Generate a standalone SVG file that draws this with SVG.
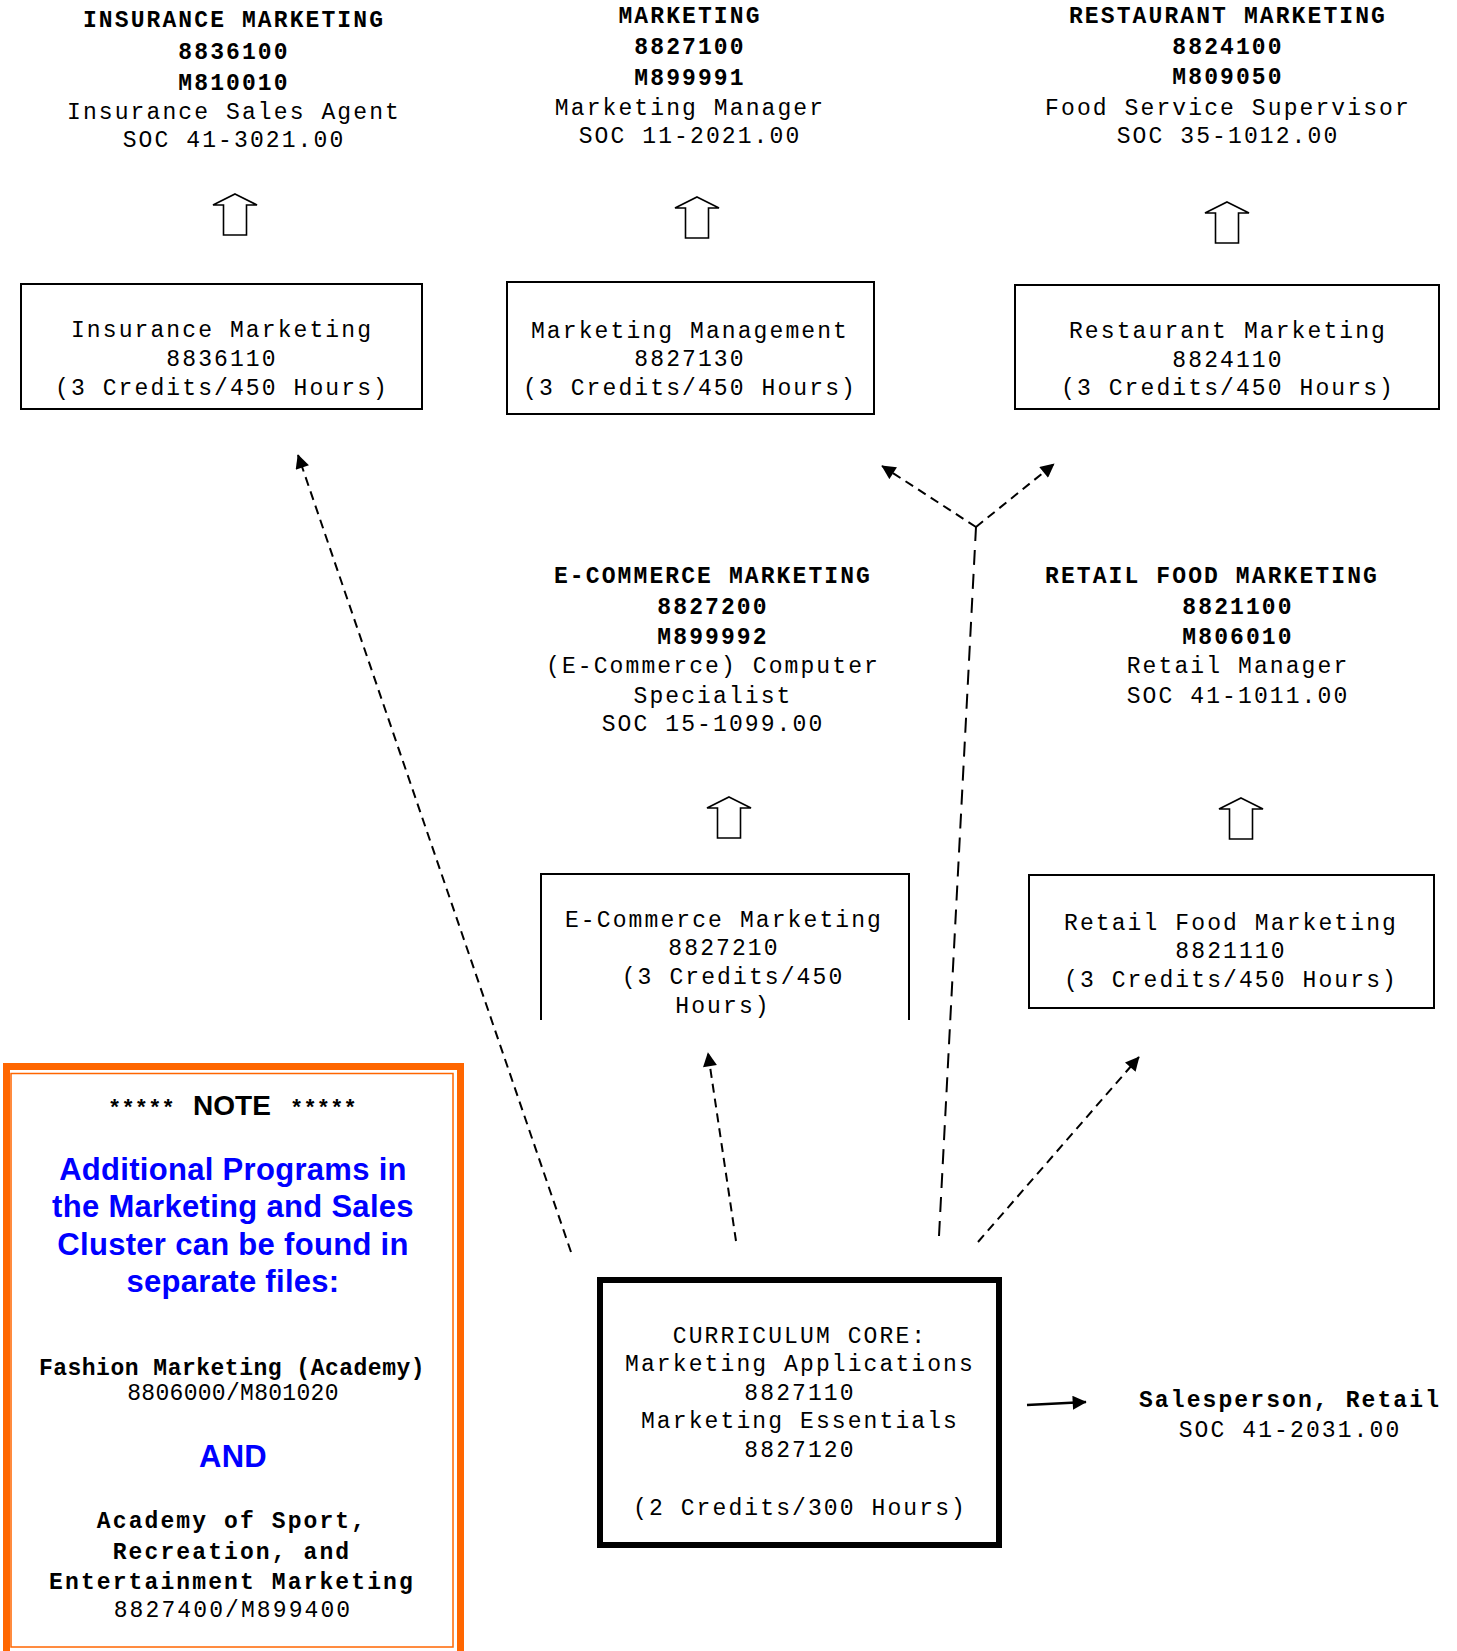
<svg xmlns="http://www.w3.org/2000/svg" width="1457" height="1651" viewBox="0 0 1457 1651">
<style>
.t{font-family:"Liberation Mono","Courier New",monospace;font-size:23px;letter-spacing:2.1px;fill:#000;text-anchor:middle}
.b{font-weight:bold}
.box{fill:none;stroke:#000;stroke-width:2}
.up{fill:#fff;stroke:#000;stroke-width:1.6;stroke-linejoin:miter}
.d{fill:none;stroke:#000;stroke-width:2;stroke-dasharray:9 6}
.dl{fill:none;stroke:#000;stroke-width:2;stroke-dasharray:15 9}
.blue{font-family:"Liberation Sans",Arial,sans-serif;font-weight:bold;font-size:31px;fill:#0000ff;text-anchor:middle;letter-spacing:0.3px}
.sans{font-family:"Liberation Sans",Arial,sans-serif;font-weight:bold;font-size:28px;fill:#000;text-anchor:middle}
</style>
<defs>
<marker id="ah" viewBox="0 0 10 10" refX="9.5" refY="5" markerWidth="15" markerHeight="14" markerUnits="userSpaceOnUse" orient="auto">
<path d="M0,0 L10,5 L0,10 Z" fill="#000" stroke="none"/>
</marker>
<path id="uparrow" d="M0,0 L22,11 L11.5,11 L11.5,41 L-11.5,41 L-11.5,11 L-22,11 Z"/>
</defs>
<rect width="1457" height="1651" fill="#fff"/>

<g id="insurance-career">
<text class="t b" x="234" y="27">INSURANCE MARKETING</text>
<text class="t b" x="234" y="59">8836100</text>
<text class="t b" x="234" y="90">M810010</text>
<text class="t" x="234" y="119">Insurance Sales Agent</text>
<text class="t" x="234" y="147">SOC 41-3021.00</text>
<use href="#uparrow" class="up" x="235" y="194"/>
</g>
<g id="insurance-course">
<rect class="box" x="21" y="284" width="401" height="125"/>
<text class="t" x="222" y="337">Insurance Marketing</text>
<text class="t" x="222" y="366">8836110</text>
<text class="t" x="222" y="395">(3 Credits/450 Hours)</text>
</g>

<g id="marketing-career">
<text class="t b" x="690" y="23">MARKETING</text>
<text class="t b" x="690" y="54">8827100</text>
<text class="t b" x="690" y="85">M899991</text>
<text class="t" x="690" y="115">Marketing Manager</text>
<text class="t" x="690" y="143">SOC 11-2021.00</text>
<use href="#uparrow" class="up" x="697" y="197"/>
</g>
<g id="marketing-course">
<rect class="box" x="507" y="282" width="367" height="132"/>
<text class="t" x="690" y="338">Marketing Management</text>
<text class="t" x="690" y="366">8827130</text>
<text class="t" x="690" y="395">(3 Credits/450 Hours)</text>
</g>

<g id="restaurant-career">
<text class="t b" x="1228" y="23">RESTAURANT MARKETING</text>
<text class="t b" x="1228" y="54">8824100</text>
<text class="t b" x="1228" y="84">M809050</text>
<text class="t" x="1228" y="115">Food Service Supervisor</text>
<text class="t" x="1228" y="143">SOC 35-1012.00</text>
<use href="#uparrow" class="up" x="1227" y="202"/>
</g>
<g id="restaurant-course">
<rect class="box" x="1015" y="285" width="424" height="124"/>
<text class="t" x="1228" y="338">Restaurant Marketing</text>
<text class="t" x="1228" y="367">8824110</text>
<text class="t" x="1228" y="395">(3 Credits/450 Hours)</text>
</g>

<g id="ecommerce-career">
<text class="t b" x="713" y="583">E-COMMERCE MARKETING</text>
<text class="t b" x="713" y="614">8827200</text>
<text class="t b" x="713" y="644">M899992</text>
<text class="t" x="713" y="673">(E-Commerce) Computer</text>
<text class="t" x="713" y="703">Specialist</text>
<text class="t" x="713" y="731">SOC 15-1099.00</text>
<use href="#uparrow" class="up" x="729" y="797"/>
</g>
<g id="ecommerce-course">
<path class="box" d="M541,1020 V874 H909 V1020"/>
<text class="t" x="724" y="927">E-Commerce Marketing</text>
<text class="t" x="724" y="955">8827210</text>
<text class="t" x="733" y="984">(3 Credits/450</text>
<text class="t" x="723" y="1013">Hours)</text>
</g>

<g id="retailfood-career">
<text class="t b" x="1212" y="583">RETAIL FOOD MARKETING</text>
<text class="t b" x="1238" y="614">8821100</text>
<text class="t b" x="1238" y="644">M806010</text>
<text class="t" x="1238" y="673">Retail Manager</text>
<text class="t" x="1238" y="703">SOC 41-1011.00</text>
<use href="#uparrow" class="up" x="1241" y="798"/>
</g>
<g id="retailfood-course">
<rect class="box" x="1029" y="875" width="405" height="133"/>
<text class="t" x="1231" y="930">Retail Food Marketing</text>
<text class="t" x="1231" y="958">8821110</text>
<text class="t" x="1231" y="987">(3 Credits/450 Hours)</text>
</g>

<g id="core">
<rect x="600" y="1280" width="399" height="265" fill="none" stroke="#000" stroke-width="6"/>
<text class="t" x="800" y="1343">CURRICULUM CORE:</text>
<text class="t" x="800" y="1371">Marketing Applications</text>
<text class="t" x="800" y="1400">8827110</text>
<text class="t" x="800" y="1428">Marketing Essentials</text>
<text class="t" x="800" y="1457">8827120</text>
<text class="t" x="800" y="1515">(2 Credits/300 Hours)</text>
</g>

<g id="salesperson">
<text class="t b" x="1290" y="1407">Salesperson, Retail</text>
<text class="t" x="1290" y="1437">SOC 41-2031.00</text>
</g>

<g id="note">
<rect x="6.5" y="1066.5" width="454" height="600" fill="none" stroke="#ff6600" stroke-width="7"/>
<rect x="11" y="1073.5" width="442" height="573.5" fill="none" stroke="#ff6600" stroke-width="1.5"/>
<text class="t b" x="141.5" y="1115" style="font-size:22px;letter-spacing:0.2px">*****</text>
<text class="sans" x="232" y="1115">NOTE</text>
<text class="t b" x="323.5" y="1115" style="font-size:22px;letter-spacing:0.2px">*****</text>
<text class="blue" x="233" y="1180">Additional Programs in</text>
<text class="blue" x="233" y="1217">the Marketing and Sales</text>
<text class="blue" x="233" y="1255">Cluster can be found in</text>
<text class="blue" x="233" y="1292">separate files:</text>
<text class="t b" x="232" y="1375" style="letter-spacing:0.5px">Fashion Marketing (Academy)</text>
<text class="t" x="233" y="1400" style="letter-spacing:0.3px">8806000/M801020</text>
<text class="blue" x="233" y="1467">AND</text>
<text class="t b" x="232" y="1528">Academy of Sport,</text>
<text class="t b" x="232" y="1559">Recreation, and</text>
<text class="t b" x="232" y="1589">Entertainment Marketing</text>
<text class="t" x="233" y="1617">8827400/M899400</text>
</g>

<g id="connectors">
<path class="d" d="M571,1252 L298,455" marker-end="url(#ah)"/>
<path class="d" d="M736,1241 L708,1053" marker-end="url(#ah)"/>
<path class="dl" d="M939,1236 L976,527"/>
<path class="d" d="M976,527 L882,466" marker-end="url(#ah)"/>
<path class="d" d="M976,527 L1054,464" marker-end="url(#ah)"/>
<path class="d" d="M978,1242 L1139,1057" marker-end="url(#ah)"/>
<path d="M1027,1405 L1086,1402" fill="none" stroke="#000" stroke-width="2.5" marker-end="url(#ah)"/>
</g>
</svg>
